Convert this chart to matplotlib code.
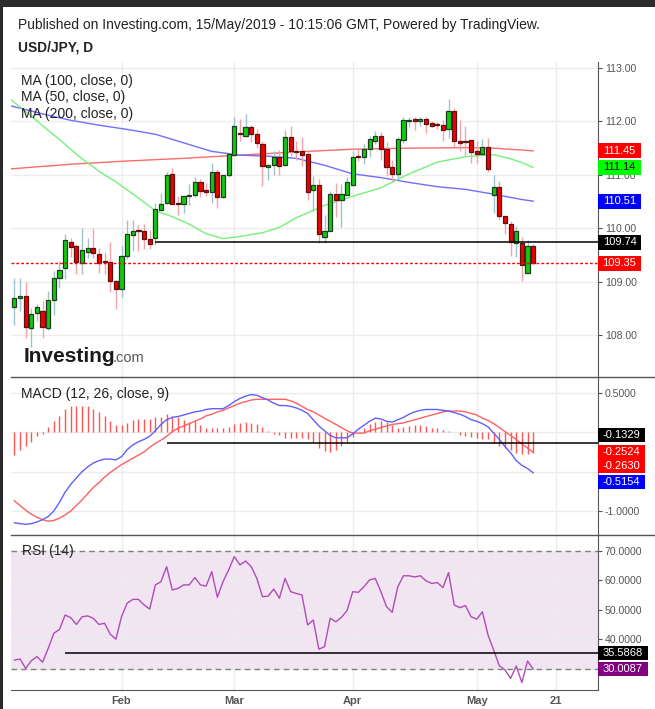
import matplotlib.pyplot as plt
import numpy as np
import pandas as pd
from matplotlib.patches import Rectangle
from matplotlib.lines import Line2D

plt.rcParams['font.family'] = ['Liberation Sans', 'DejaVu Sans']

# daily bars, 7 Jan 2019 .. 15 May 2019 (weekdays)
dates = pd.bdate_range('2019-01-07', '2019-05-15')

opens = [108.53, 108.70, 108.74, 108.14, 108.42, 108.46, 108.14, 108.67, 109.08, 109.26,
         109.74, 109.67, 109.36, 109.56, 109.63, 109.53, 109.38, 109.37, 109.02, 108.87,
         109.49, 109.88, 109.96, 109.96, 109.81, 109.82, 110.35, 110.48, 111.01, 110.47,
         110.45, 110.61, 110.62, 110.87, 110.70, 110.68, 111.06, 110.58, 110.99, 111.38,
         111.78, 111.72, 111.89, 111.76, 111.58, 111.14, 111.19, 111.34, 111.18, 111.71,
         111.45, 111.44, 111.40, 110.71, 110.81, 109.84, 109.96, 110.64, 110.53, 110.62,
         110.81, 111.35, 111.33, 111.48, 111.63, 111.73, 111.48, 111.14, 111.02, 111.65,
         112.00, 112.04, 112.00, 112.05, 111.97, 111.94, 111.93, 111.85, 112.20, 111.64,
         111.62, 111.65, 111.45, 111.39, 111.52, 110.63, 110.78, 110.24, 110.09, 109.73,
         109.73, 109.16, 109.67]
highs = [109.08, 109.08, 109.00, 108.52, 108.59, 108.64, 108.83, 109.20, 109.39, 109.89,
         109.82, 109.71, 110.01, 109.83, 110.01, 109.64, 109.56, 109.74, 109.04, 109.67,
         110.15, 110.15, 110.07, 110.09, 109.98, 110.48, 110.67, 111.06, 111.13, 110.60,
         110.62, 110.83, 110.96, 110.92, 110.85, 111.23, 111.11, 111.00, 111.40, 112.09,
         112.04, 112.13, 111.93, 111.86, 111.64, 111.20, 111.45, 111.46, 111.84, 111.92,
         111.63, 111.70, 111.42, 110.98, 110.92, 110.25, 110.70, 110.84, 110.83, 110.96,
         111.45, 111.48, 111.58, 111.73, 111.83, 111.81, 111.61, 111.28, 111.71, 112.08,
         112.09, 112.09, 112.09, 112.09, 112.00, 111.99, 112.03, 112.42, 112.25, 112.03,
         111.92, 111.65, 111.64, 111.67, 111.69, 111.00, 110.88, 110.24, 110.14, 110.04,
         109.84, 109.78, 109.71]
lows = [108.20, 108.45, 107.96, 107.78, 108.27, 107.96, 108.10, 108.39, 108.89, 109.06,
        109.47, 109.15, 109.14, 109.45, 109.45, 109.17, 109.14, 108.82, 108.50, 108.71,
        109.43, 109.57, 109.58, 109.62, 109.62, 109.69, 110.35, 110.45, 110.45, 110.26,
        110.29, 110.44, 110.58, 110.59, 110.60, 110.48, 110.39, 110.56, 110.97, 111.37,
        111.64, 111.70, 111.61, 111.50, 110.79, 110.90, 110.99, 111.00, 111.16, 111.36,
        111.27, 111.17, 110.54, 110.33, 109.73, 109.73, 109.96, 110.21, 110.03, 110.62,
        110.80, 111.26, 111.21, 111.34, 111.58, 111.28, 110.98, 110.88, 110.91, 111.59,
        111.89, 111.84, 111.92, 111.78, 111.89, 111.86, 111.64, 111.69, 111.53, 111.44,
        111.36, 111.23, 111.23, 111.37, 111.06, 110.28, 110.15, 109.90, 109.48, 109.46,
        109.01, 109.16, 109.33]
closes = [108.70, 108.74, 108.16, 108.41, 108.53, 108.16, 108.67, 109.08, 109.23, 109.78,
          109.66, 109.37, 109.59, 109.63, 109.54, 109.36, 109.37, 109.02, 108.87, 109.49,
          109.89, 109.96, 109.95, 109.81, 109.71, 110.37, 110.46, 111.00, 110.46, 110.46,
          110.60, 110.61, 110.86, 110.70, 110.69, 111.06, 110.59, 111.00, 111.39, 111.92,
          111.76, 111.89, 111.77, 111.59, 111.16, 111.19, 111.34, 111.17, 111.71, 111.45,
          111.42, 111.38, 110.69, 110.81, 109.90, 109.96, 110.64, 110.53, 110.64, 110.86,
          111.34, 111.33, 111.48, 111.67, 111.73, 111.48, 111.14, 111.01, 111.67, 112.03,
          112.01, 112.00, 112.05, 111.96, 111.91, 111.93, 111.84, 112.20, 111.63, 111.59,
          111.61, 111.42, 111.39, 111.52, 111.11, 110.78, 110.24, 110.11, 109.74, 109.95,
          109.31, 109.67, 109.35]

# moving averages, read at a few bars
ma100_at = [-1, 5, 10, 15, 20, 25, 30, 35, 40, 45, 50, 55, 60, 65, 70, 75, 80, 85, 90, 92]
ma100 = [112.30, 112.14, 112.02, 111.93, 111.85, 111.76, 111.60, 111.44, 111.37, 111.35,
         111.31, 111.18, 111.02, 110.95, 110.86, 110.78, 110.73, 110.64, 110.54, 110.51]
ma50_at = [-1, 3, 5, 8, 10, 12, 15, 18, 20, 22, 25, 28, 31, 34, 37, 40, 44, 47, 50, 55,
           60, 65, 70, 75, 80, 85, 88, 90, 92]
ma50 = [112.44, 112.10, 111.92, 111.66, 111.48, 111.30, 111.07, 110.87, 110.72, 110.57,
        110.33, 110.22, 110.08, 109.90, 109.81, 109.85, 109.92, 110.02, 110.20, 110.43,
        110.60, 110.76, 111.02, 111.24, 111.34, 111.38, 111.30, 111.23, 111.14]
ma200_at = [-1, 10, 20, 30, 40, 50, 60, 70, 80, 85, 92]
ma200 = [111.11, 111.20, 111.26, 111.31, 111.37, 111.43, 111.48, 111.50, 111.51, 111.50, 111.45]

macd = [-1.15, -1.16, -1.17, -1.16, -1.14, -1.11, -1.07, -1.00, -0.89, -0.76,
        -0.66, -0.58, -0.50, -0.44, -0.39, -0.36, -0.34, -0.34, -0.35, -0.31,
        -0.22, -0.16, -0.12, -0.09, -0.05, 0.02, 0.10, 0.16, 0.19, 0.20,
        0.22, 0.24, 0.26, 0.27, 0.29, 0.30, 0.30, 0.30, 0.34, 0.39,
        0.43, 0.46, 0.48, 0.47, 0.44, 0.41, 0.37, 0.34, 0.34, 0.33,
        0.31, 0.28, 0.24, 0.16, 0.08, 0.02, -0.04, -0.07, -0.07, -0.07,
        -0.02, 0.04, 0.09, 0.14, 0.18, 0.17, 0.14, 0.13, 0.16, 0.19,
        0.23, 0.26, 0.28, 0.29, 0.29, 0.29, 0.28, 0.27, 0.25, 0.23,
        0.20, 0.16, 0.14, 0.11, 0.07, -0.01, -0.09, -0.18, -0.26, -0.36,
        -0.42, -0.46, -0.5154]
signal = [-0.87, -0.93, -0.99, -1.04, -1.08, -1.11, -1.13, -1.12, -1.09, -1.05,
          -1.00, -0.93, -0.86, -0.78, -0.70, -0.64, -0.57, -0.51, -0.46, -0.41,
          -0.37, -0.33, -0.29, -0.25, -0.19, -0.14, -0.10, -0.05, 0.01, 0.05,
          0.08, 0.11, 0.14, 0.17, 0.21, 0.23, 0.26, 0.28, 0.31, 0.34,
          0.37, 0.39, 0.41, 0.42, 0.42, 0.42, 0.42, 0.42, 0.42, 0.40,
          0.37, 0.33, 0.29, 0.26, 0.22, 0.18, 0.14, 0.10, 0.06, 0.02,
          -0.01, -0.01, -0.01, 0.02, 0.04, 0.06, 0.08, 0.10, 0.11, 0.12,
          0.14, 0.16, 0.18, 0.20, 0.22, 0.24, 0.26, 0.27, 0.27, 0.27,
          0.26, 0.24, 0.22, 0.18, 0.15, 0.11, 0.06, 0.01, -0.04, -0.09,
          -0.15, -0.20, -0.2524]
hist = [-0.29, -0.22, -0.18, -0.12, -0.05, -0.02, 0.07, 0.14, 0.21, 0.29,
        0.34, 0.33, 0.33, 0.33, 0.29, 0.26, 0.21, 0.15, 0.09, 0.09,
        0.12, 0.16, 0.17, 0.17, 0.17, 0.19, 0.19, 0.23, 0.21, 0.19,
        0.16, 0.13, 0.14, 0.09, 0.06, 0.06, 0.05, 0.05, 0.07, 0.10,
        0.12, 0.13, 0.12, 0.10, 0.07, 0.02, -0.02, -0.04, -0.07, -0.07,
        -0.07, -0.07, -0.08, -0.12, -0.20, -0.24, -0.25, -0.23, -0.17, -0.12,
        -0.06, 0.00, 0.06, 0.10, 0.13, 0.14, 0.13, 0.09, 0.05, 0.07,
        0.08, 0.09, 0.09, 0.08, 0.06, 0.05, 0.03, 0.02, 0.00, -0.03,
        -0.05, -0.06, -0.07, -0.08, -0.08, -0.13, -0.17, -0.20, -0.23, -0.26,
        -0.28, -0.27, -0.263]

rsi = [33.0, 33.4, 30.2, 32.8, 34.2, 32.3, 37.0, 42.1, 43.4, 48.3,
       47.4, 45.1, 47.7, 48.0, 47.2, 45.1, 45.5, 41.8, 40.1, 47.7,
       52.3, 53.6, 53.6, 51.7, 50.3, 58.5, 59.6, 64.7, 56.8, 57.3,
       58.5, 58.5, 61.0, 58.5, 58.1, 63.0, 54.3, 59.6, 63.6, 68.1,
       65.3, 66.6, 64.7, 60.7, 54.5, 54.7, 57.1, 54.0, 60.7, 56.2,
       55.6, 55.1, 44.9, 46.6, 36.7, 37.6, 47.2, 46.0, 47.5, 49.8,
       56.2, 56.0, 57.9, 60.2, 60.7, 56.2, 51.1, 49.2, 57.9, 61.6,
       61.6, 61.2, 61.6, 59.9, 59.0, 59.3, 57.6, 62.7, 51.7, 50.8,
       51.5, 47.7, 46.9, 49.4, 41.5, 36.4, 31.1, 29.7, 26.8, 31.0,
       25.4, 32.7, 30.0087]

last_close = 109.35
support_price = 109.74
support_macd = -0.1329
support_rsi = 35.5868

W, H = 655, 709
fig = plt.figure(figsize=(W / 100, H / 100), dpi=100)
fig.patch.set_facecolor('white')


def px_axes(x0, y0, x1, y1):
    return fig.add_axes([x0 / W, 1 - y1 / H, (x1 - x0) / W, (y1 - y0) / H])


ax1 = px_axes(11, 62, 598, 377)
ax2 = px_axes(11, 377, 598, 535)
ax3 = px_axes(11, 535, 598, 690)

n = len(closes)
x = np.arange(n)
xlim = (-0.6, 103.5)

# month ticks + 21 May
month_pos = [i for i in range(1, n) if dates[i].month != dates[i - 1].month]
month_lbl = [dates[i].strftime('%b') for i in month_pos]
month_pos.append(len(pd.bdate_range(dates[0], '2019-05-21')) - 1)
month_lbl.append('21')

grid_c = '#ececec'
axis_c = '#555555'
for ax in (ax1, ax2, ax3):
    ax.set_xlim(*xlim)
    ax.set_xticks(month_pos)
    ax.yaxis.tick_right()
    for s in ('top', 'left', 'bottom'):
        ax.spines[s].set_visible(False)
    ax.spines['right'].set_color(axis_c)
    ax.tick_params(axis='y', colors=axis_c, labelsize=7.6, length=3, pad=2)
    ax.tick_params(axis='x', length=0)
    ax.grid(True, color=grid_c, lw=1)
    ax.set_axisbelow(True)
ax1.set_xticklabels([])
ax2.set_xticklabels([])
ax3.set_xticklabels(month_lbl, fontweight='bold', color=axis_c, fontsize=8)
ax3.tick_params(axis='x', pad=4)
ax3.spines['bottom'].set_visible(True)
ax3.spines['bottom'].set_color(axis_c)

# ---- price panel
ax1.set_ylim(107.224, 113.11)
ax1.set_yticks([108, 109, 110, 111, 112, 113])
ax1.set_yticklabels(['%.2f' % v for v in [108, 109, 110, 111, 112, 113]])

ax1.plot(ma200_at, ma200, color='#ff6b6b', lw=1, zorder=1.5)
ax1.plot(ma100_at, ma100, color='#6f6fff', lw=1, zorder=1.5)
ax1.plot(ma50_at, ma50, color='#78f078', lw=1, zorder=1.5)

for i in range(n):
    o, h, l, c = opens[i], highs[i], lows[i], closes[i]
    up = c >= o
    ax1.vlines(i, l, h, color='#9fc2cc' if up else '#f4a3ab', lw=1, zorder=2)
    ax1.add_patch(Rectangle((i - 0.37, min(o, c)), 0.74, max(abs(c - o), 0.02),
                            fc='#0fcc0f' if up else '#f00000',
                            ec='#1e3d1e' if up else '#5c1010', lw=0.9, zorder=3))

ax1.hlines(support_price, 25, xlim[1], color='black', lw=1.1, zorder=4)
ax1.axhline(last_close, color='#ff0000', lw=1, ls=(0, (2, 1.5)), zorder=4)

# ---- MACD panel
ax2.set_ylim(-1.305, 0.703)
ax2.set_yticks([0.5, 0.0, -0.5, -1.0])
ax2.set_yticklabels(['0.5000', '', '', '-1.0000'])
ax2.vlines(x, 0, hist, color='#ff5555', lw=1, zorder=2)
ax2.plot(x, signal, color='#ff5f5f', lw=1, zorder=3)
ax2.plot(x, macd, color='#5f5fff', lw=1, zorder=3)
ax2.hlines(support_macd, 27, xlim[1], color='black', lw=1.1, zorder=4)

# ---- RSI panel
ax3.set_ylim(22.88, 75.42)
ax3.set_yticks([30, 40, 50, 60, 70])
ax3.set_yticklabels(['', '40.0000', '50.0000', '60.0000', '70.0000'])
ax3.axhspan(30, 70, color='#f2e5f2', zorder=0.2, lw=0)
for lv in (30, 70):
    ax3.axhline(lv, color='#808080', lw=1, ls=(0, (4, 3)), zorder=1)
ax3.plot(x, rsi, color='#b04cb8', lw=1, zorder=3)
ax3.hlines(support_rsi, 9, xlim[1], color='black', lw=1.1, zorder=4)

# panel separators
for yy in (377, 535):
    fig.add_artist(Line2D([11 / W, 1], [1 - yy / H, 1 - yy / H], color=axis_c, lw=1))

fig.canvas.draw()


def tag(ax, value, text, fc, tc='white', shift=0, x1=641, h=15):
    yc = H - ax.transData.transform((0, value))[1] + shift
    fig.add_artist(Rectangle((598 / W, 1 - (yc + h / 2) / H), (x1 - 598) / W, h / H,
                             transform=fig.transFigure, fc=fc, ec='none', zorder=5))
    fig.text((598 + x1) / 2 / W, 1 - yc / H, text, ha='center', va='center',
             color=tc, fontsize=8, zorder=6)


tag(ax1, 111.45, '111.45', '#ff0000')
tag(ax1, 111.14, '111.14', '#00ff00', tc='black')
tag(ax1, 110.51, '110.51', '#0000ff')
tag(ax1, support_price, '%.2f' % support_price, '#000000')
tag(ax1, last_close, '%.2f' % last_close, '#ff0000')

tag(ax2, support_macd, '%.4f' % support_macd, '#000000', shift=-8, x1=645, h=14.5)
tag(ax2, signal[-1], '%.4f' % signal[-1], '#ff0000', shift=0, x1=645, h=14.5)
tag(ax2, hist[-1], '%.4f' % hist[-1], '#ff0000', shift=13, x1=645, h=14.5)
tag(ax2, macd[-1], '%.4f' % macd[-1], '#0000ff', shift=9, x1=645, h=14.5)

tag(ax3, support_rsi, '%.4f' % support_rsi, '#000000', x1=648, h=14)
tag(ax3, rsi[-1], '%.4f' % rsi[-1], '#800080', x1=648, h=14)

# texts
txt_c = '#222222'
fig.text(18 / W, 1 - 25 / H, 'Published on Investing.com, 15/May/2019 - 10:15:06 GMT, Powered by TradingView.',
         fontsize=10, color=txt_c, va='center')
fig.text(18 / W, 1 - 48 / H, 'USD/JPY, D', fontsize=9.9, fontweight='bold', color=txt_c, va='center')
for k, lbl in enumerate(['MA (100, close, 0)', 'MA (50, close, 0)', 'MA (200, close, 0)']):
    fig.text(21 / W, 1 - (80.7 + 16.8 * k) / H, lbl, fontsize=10, color=txt_c, va='center', zorder=6)
fig.text(21 / W, 1 - 394 / H, 'MACD (12, 26, close, 9)', fontsize=10, color=txt_c, va='center')
fig.text(22 / W, 1 - 551 / H, 'RSI (14)', fontsize=10, color=txt_c, va='center')

# logo
fig.text(24 / W, 1 - 362 / H, 'Investing', fontsize=15, fontweight='bold', color='#1a1a1a', va='baseline')
fig.text(113 / W, 1 - 362 / H, '.com', fontsize=10.5, color='#555555', va='baseline')

# dark frame at top and left
fig.add_artist(Rectangle((0, 1 - 7 / H), 1, 7 / H, transform=fig.transFigure, fc='#2b2b2b', ec='none'))
fig.add_artist(Rectangle((0, 0), 3 / W, 1, transform=fig.transFigure, fc='#2b2b2b', ec='none'))

fig.savefig('out.png', dpi=100)
